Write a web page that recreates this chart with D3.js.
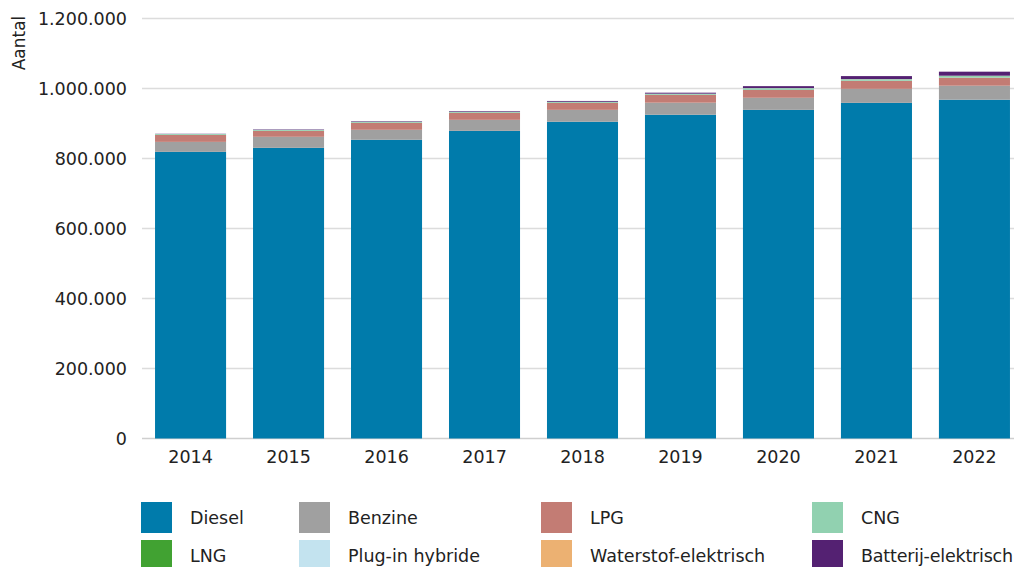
<!DOCTYPE html>
<html>
<head>
<meta charset="utf-8">
<script src="https://cdn.jsdelivr.net/npm/d3@7"></script>
<style>
  html, body { margin: 0; padding: 0; background: #fff; }
  svg { display: block; font-family: "DejaVu Sans", sans-serif; }
</style>
</head>
<body>
<svg id="chart" width="1014" height="567"></svg>
<script>
// Bestelauto's per brandstofsoort
const years = ["2014", "2015", "2016", "2017", "2018", "2019", "2020", "2021", "2022"];
const fuels = ["Diesel", "Benzine", "LPG", "CNG", "LNG", "Plug-in hybride", "Waterstof-elektrisch", "Batterij-elektrisch"];
const colors = ["#007bab", "#a0a0a0", "#c37c74", "#91d1b0", "#41a232", "#c3e3ef", "#ecb172", "#542172"];

const diesel     = [819000, 830500, 853500, 879000, 905000, 925000, 939000, 959000, 968000];
const benzine    = [ 28500,  31500,  28500,  31500,  34000,  34500,  34500,  40000,  40000];
const lpg        = [ 20000,  17000,  20000,  20000,  20000,  22500,  22500,  23000,  23000];
const cng        = [  2500,   2800,   2800,   2800,   2800,   2800,   4500,   3500,   4500];
const lng        = [     0,      0,      0,      0,      0,      0,    200,    800,    300];
const plugin     = [   100,    200,    200,    300,    300,    400,    500,    600,    700];
const waterstof  = [     0,      0,      0,      0,      0,     20,     30,     50,     60];
const batterij   = [   600,   1200,   1500,   1800,   2300,   2800,   5500,   8500,  11500];

const yTicks = [0, 200000, 400000, 600000, 800000, 1000000, 1200000];

const seriesValues = [diesel, benzine, lpg, cng, lng, plugin, waterstof, batterij];
const rows = years.map((y, i) => {
  const r = { year: y };
  fuels.forEach((f, k) => { r[f] = seriesValues[k][i]; });
  return r;
});

const svg = d3.select("#chart");
const W = 1014;
const FONT = "'DejaVu Sans', sans-serif";

const x = d3.scaleBand().domain(years).range([142, 1023]).paddingInner(0.275).paddingOuter(0.133).align(0.5);
const y = d3.scaleLinear().domain([0, 1200000]).range([438.5, 18.5]);

const fmt = v => d3.format(",")(v).replace(/,/g, ".");

// gridlines
svg.append("g").selectAll("line").data(yTicks).join("line")
  .attr("x1", 142).attr("x2", W)
  .attr("y1", d => y(d)).attr("y2", d => y(d))
  .attr("stroke", d => d === 0 ? "#cfcfcf" : "#dcdcdc")
  .attr("stroke-width", 1.5);

// y axis labels
const yAxis = d3.axisLeft(y).tickValues(yTicks).tickFormat(fmt).tickSize(0).tickPadding(0);
svg.append("g").attr("transform", "translate(127,0)").call(yAxis)
  .call(g => g.select(".domain").remove())
  .selectAll("text")
  .attr("font-size", 17.5).attr("fill", "#222").attr("font-family", FONT);

svg.append("text")
  .attr("transform", "translate(25,43) rotate(-90)")
  .attr("text-anchor", "middle")
  .attr("font-size", 17).attr("fill", "#222").attr("font-family", FONT)
  .text("Aantal");

// stacked bars
const stack = d3.stack().keys(fuels);
const layers = stack(rows);
svg.append("g").selectAll("g").data(layers).join("g")
  .attr("fill", (d, i) => colors[i])
  .selectAll("rect").data(d => d).join("rect")
  .attr("x", d => x(d.data.year))
  .attr("width", x.bandwidth())
  .attr("y", d => y(d[1]))
  .attr("height", d => Math.max(0, y(d[0]) - y(d[1])));

// x axis labels
const xAxis = d3.axisBottom(x).tickSize(0).tickPadding(0);
svg.append("g").attr("transform", "translate(0,451)").call(xAxis)
  .call(g => g.select(".domain").remove())
  .selectAll("text")
  .attr("font-size", 17.5).attr("fill", "#222").attr("font-family", FONT);

// legend
const colX = [141, 299, 541, 812];
const rowY = [502, 540];
const legend = svg.append("g").selectAll("g").data(fuels).join("g")
  .attr("transform", (d, i) => `translate(${colX[i % 4]},${rowY[Math.floor(i / 4)]})`);
legend.append("rect").attr("width", 31).attr("height", 31).attr("fill", (d, i) => colors[i]);
legend.append("text").attr("x", 49).attr("y", 22)
  .attr("font-size", 17.5).attr("fill", "#222").attr("font-family", FONT)
  .attr("letter-spacing", (d, i) => i === 7 ? -0.2 : 0)
  .text(d => d);
</script>
</body>
</html>
